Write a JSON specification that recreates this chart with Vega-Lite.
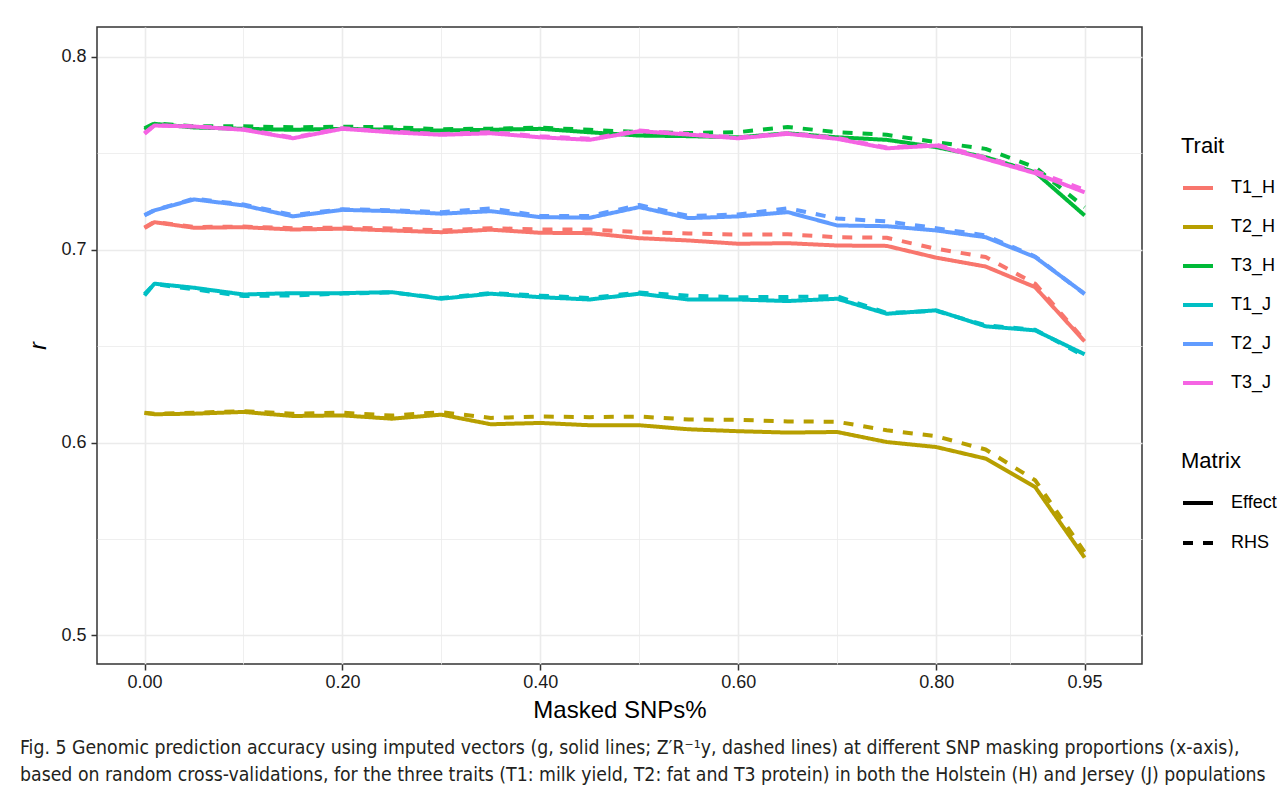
{
  "$schema": "https://vega.github.io/schema/vega-lite/v6.json",
  "width": 1045,
  "height": 637,
  "autosize": {"type": "none"},
  "padding": {"left": 97, "top": 27, "right": 142, "bottom": 131},
  "background": "white",
  "config": {
    "view": {"stroke": "#333333", "strokeWidth": 1.5},
    "font": "Liberation Sans"
  },
  "title": {
    "text": [
      "Fig. 5  Genomic prediction accuracy using imputed vectors (g, solid lines; Z′R⁻¹y, dashed lines) at different SNP masking proportions (x-axis),",
      "based on random cross-validations, for the three traits (T1: milk yield, T2: fat and T3 protein) in both the Holstein (H) and Jersey (J) populations"
    ],
    "orient": "bottom",
    "anchor": "start",
    "frame": "group",
    "dx": -77,
    "offset": 17,
    "font": "Liberation Sans Narrow, DejaVu Sans Condensed, sans-serif",
    "fontSize": 19.3,
    "fontWeight": "normal",
    "color": "#231f20",
    "lineHeight": 27
  },
  "data": {
    "values": [
      {"x":0,"r":0.7112,"t":"T1_H","m":"Effect"},{"x":0.01,"r":0.7143,"t":"T1_H","m":"Effect"},{"x":0.05,"r":0.7114,"t":"T1_H","m":"Effect"},{"x":0.1,"r":0.7117,"t":"T1_H","m":"Effect"},{"x":0.15,"r":0.7105,"t":"T1_H","m":"Effect"},{"x":0.2,"r":0.7109,"t":"T1_H","m":"Effect"},{"x":0.25,"r":0.71,"t":"T1_H","m":"Effect"},{"x":0.3,"r":0.7091,"t":"T1_H","m":"Effect"},{"x":0.35,"r":0.7104,"t":"T1_H","m":"Effect"},{"x":0.4,"r":0.7088,"t":"T1_H","m":"Effect"},{"x":0.45,"r":0.7086,"t":"T1_H","m":"Effect"},{"x":0.5,"r":0.706,"t":"T1_H","m":"Effect"},{"x":0.55,"r":0.7048,"t":"T1_H","m":"Effect"},{"x":0.6,"r":0.7031,"t":"T1_H","m":"Effect"},{"x":0.65,"r":0.7034,"t":"T1_H","m":"Effect"},{"x":0.7,"r":0.7022,"t":"T1_H","m":"Effect"},{"x":0.75,"r":0.702,"t":"T1_H","m":"Effect"},{"x":0.8,"r":0.6959,"t":"T1_H","m":"Effect"},{"x":0.85,"r":0.6913,"t":"T1_H","m":"Effect"},{"x":0.9,"r":0.6806,"t":"T1_H","m":"Effect"},{"x":0.95,"r":0.6525,"t":"T1_H","m":"Effect"},
      {"x":0,"r":0.7115,"t":"T1_H","m":"RHS"},{"x":0.01,"r":0.7145,"t":"T1_H","m":"RHS"},{"x":0.05,"r":0.7118,"t":"T1_H","m":"RHS"},{"x":0.1,"r":0.712,"t":"T1_H","m":"RHS"},{"x":0.15,"r":0.7112,"t":"T1_H","m":"RHS"},{"x":0.2,"r":0.7115,"t":"T1_H","m":"RHS"},{"x":0.25,"r":0.711,"t":"T1_H","m":"RHS"},{"x":0.3,"r":0.71,"t":"T1_H","m":"RHS"},{"x":0.35,"r":0.7112,"t":"T1_H","m":"RHS"},{"x":0.4,"r":0.7105,"t":"T1_H","m":"RHS"},{"x":0.45,"r":0.7105,"t":"T1_H","m":"RHS"},{"x":0.5,"r":0.7091,"t":"T1_H","m":"RHS"},{"x":0.55,"r":0.7084,"t":"T1_H","m":"RHS"},{"x":0.6,"r":0.7079,"t":"T1_H","m":"RHS"},{"x":0.65,"r":0.708,"t":"T1_H","m":"RHS"},{"x":0.7,"r":0.7065,"t":"T1_H","m":"RHS"},{"x":0.75,"r":0.7062,"t":"T1_H","m":"RHS"},{"x":0.8,"r":0.7005,"t":"T1_H","m":"RHS"},{"x":0.85,"r":0.6962,"t":"T1_H","m":"RHS"},{"x":0.9,"r":0.6824,"t":"T1_H","m":"RHS"},{"x":0.95,"r":0.653,"t":"T1_H","m":"RHS"},
      {"x":0,"r":0.6154,"t":"T2_H","m":"Effect"},{"x":0.01,"r":0.6147,"t":"T2_H","m":"Effect"},{"x":0.05,"r":0.615,"t":"T2_H","m":"Effect"},{"x":0.1,"r":0.6159,"t":"T2_H","m":"Effect"},{"x":0.15,"r":0.6138,"t":"T2_H","m":"Effect"},{"x":0.2,"r":0.6141,"t":"T2_H","m":"Effect"},{"x":0.25,"r":0.6124,"t":"T2_H","m":"Effect"},{"x":0.3,"r":0.6145,"t":"T2_H","m":"Effect"},{"x":0.35,"r":0.6095,"t":"T2_H","m":"Effect"},{"x":0.4,"r":0.6102,"t":"T2_H","m":"Effect"},{"x":0.45,"r":0.609,"t":"T2_H","m":"Effect"},{"x":0.5,"r":0.609,"t":"T2_H","m":"Effect"},{"x":0.55,"r":0.6069,"t":"T2_H","m":"Effect"},{"x":0.6,"r":0.6059,"t":"T2_H","m":"Effect"},{"x":0.65,"r":0.6052,"t":"T2_H","m":"Effect"},{"x":0.7,"r":0.6055,"t":"T2_H","m":"Effect"},{"x":0.75,"r":0.6003,"t":"T2_H","m":"Effect"},{"x":0.8,"r":0.5977,"t":"T2_H","m":"Effect"},{"x":0.85,"r":0.5917,"t":"T2_H","m":"Effect"},{"x":0.9,"r":0.577,"t":"T2_H","m":"Effect"},{"x":0.95,"r":0.5404,"t":"T2_H","m":"Effect"},
      {"x":0,"r":0.6155,"t":"T2_H","m":"RHS"},{"x":0.01,"r":0.615,"t":"T2_H","m":"RHS"},{"x":0.05,"r":0.6155,"t":"T2_H","m":"RHS"},{"x":0.1,"r":0.6163,"t":"T2_H","m":"RHS"},{"x":0.15,"r":0.615,"t":"T2_H","m":"RHS"},{"x":0.2,"r":0.6155,"t":"T2_H","m":"RHS"},{"x":0.25,"r":0.614,"t":"T2_H","m":"RHS"},{"x":0.3,"r":0.6158,"t":"T2_H","m":"RHS"},{"x":0.35,"r":0.6128,"t":"T2_H","m":"RHS"},{"x":0.4,"r":0.6135,"t":"T2_H","m":"RHS"},{"x":0.45,"r":0.6132,"t":"T2_H","m":"RHS"},{"x":0.5,"r":0.6135,"t":"T2_H","m":"RHS"},{"x":0.55,"r":0.612,"t":"T2_H","m":"RHS"},{"x":0.6,"r":0.6118,"t":"T2_H","m":"RHS"},{"x":0.65,"r":0.611,"t":"T2_H","m":"RHS"},{"x":0.7,"r":0.6108,"t":"T2_H","m":"RHS"},{"x":0.75,"r":0.6064,"t":"T2_H","m":"RHS"},{"x":0.8,"r":0.6033,"t":"T2_H","m":"RHS"},{"x":0.85,"r":0.5964,"t":"T2_H","m":"RHS"},{"x":0.9,"r":0.5805,"t":"T2_H","m":"RHS"},{"x":0.95,"r":0.5433,"t":"T2_H","m":"RHS"},
      {"x":0,"r":0.7622,"t":"T3_H","m":"Effect"},{"x":0.01,"r":0.7653,"t":"T3_H","m":"Effect"},{"x":0.05,"r":0.7634,"t":"T3_H","m":"Effect"},{"x":0.1,"r":0.7627,"t":"T3_H","m":"Effect"},{"x":0.15,"r":0.7622,"t":"T3_H","m":"Effect"},{"x":0.2,"r":0.7627,"t":"T3_H","m":"Effect"},{"x":0.25,"r":0.7622,"t":"T3_H","m":"Effect"},{"x":0.3,"r":0.7618,"t":"T3_H","m":"Effect"},{"x":0.35,"r":0.7622,"t":"T3_H","m":"Effect"},{"x":0.4,"r":0.7627,"t":"T3_H","m":"Effect"},{"x":0.45,"r":0.7609,"t":"T3_H","m":"Effect"},{"x":0.5,"r":0.7592,"t":"T3_H","m":"Effect"},{"x":0.55,"r":0.7589,"t":"T3_H","m":"Effect"},{"x":0.6,"r":0.7583,"t":"T3_H","m":"Effect"},{"x":0.65,"r":0.7604,"t":"T3_H","m":"Effect"},{"x":0.7,"r":0.7583,"t":"T3_H","m":"Effect"},{"x":0.75,"r":0.757,"t":"T3_H","m":"Effect"},{"x":0.8,"r":0.7532,"t":"T3_H","m":"Effect"},{"x":0.85,"r":0.748,"t":"T3_H","m":"Effect"},{"x":0.9,"r":0.7402,"t":"T3_H","m":"Effect"},{"x":0.95,"r":0.7178,"t":"T3_H","m":"Effect"},
      {"x":0,"r":0.763,"t":"T3_H","m":"RHS"},{"x":0.01,"r":0.7655,"t":"T3_H","m":"RHS"},{"x":0.05,"r":0.764,"t":"T3_H","m":"RHS"},{"x":0.1,"r":0.764,"t":"T3_H","m":"RHS"},{"x":0.15,"r":0.7635,"t":"T3_H","m":"RHS"},{"x":0.2,"r":0.7638,"t":"T3_H","m":"RHS"},{"x":0.25,"r":0.7635,"t":"T3_H","m":"RHS"},{"x":0.3,"r":0.7625,"t":"T3_H","m":"RHS"},{"x":0.35,"r":0.7628,"t":"T3_H","m":"RHS"},{"x":0.4,"r":0.7633,"t":"T3_H","m":"RHS"},{"x":0.45,"r":0.7622,"t":"T3_H","m":"RHS"},{"x":0.5,"r":0.761,"t":"T3_H","m":"RHS"},{"x":0.55,"r":0.7605,"t":"T3_H","m":"RHS"},{"x":0.6,"r":0.761,"t":"T3_H","m":"RHS"},{"x":0.65,"r":0.7636,"t":"T3_H","m":"RHS"},{"x":0.7,"r":0.761,"t":"T3_H","m":"RHS"},{"x":0.75,"r":0.7596,"t":"T3_H","m":"RHS"},{"x":0.8,"r":0.7558,"t":"T3_H","m":"RHS"},{"x":0.85,"r":0.7523,"t":"T3_H","m":"RHS"},{"x":0.9,"r":0.7428,"t":"T3_H","m":"RHS"},{"x":0.95,"r":0.722,"t":"T3_H","m":"RHS"},
      {"x":0,"r":0.6763,"t":"T1_J","m":"Effect"},{"x":0.01,"r":0.6824,"t":"T1_J","m":"Effect"},{"x":0.05,"r":0.6803,"t":"T1_J","m":"Effect"},{"x":0.1,"r":0.6768,"t":"T1_J","m":"Effect"},{"x":0.15,"r":0.6775,"t":"T1_J","m":"Effect"},{"x":0.2,"r":0.6775,"t":"T1_J","m":"Effect"},{"x":0.25,"r":0.678,"t":"T1_J","m":"Effect"},{"x":0.3,"r":0.6746,"t":"T1_J","m":"Effect"},{"x":0.35,"r":0.6772,"t":"T1_J","m":"Effect"},{"x":0.4,"r":0.6754,"t":"T1_J","m":"Effect"},{"x":0.45,"r":0.6742,"t":"T1_J","m":"Effect"},{"x":0.5,"r":0.6772,"t":"T1_J","m":"Effect"},{"x":0.55,"r":0.6742,"t":"T1_J","m":"Effect"},{"x":0.6,"r":0.6742,"t":"T1_J","m":"Effect"},{"x":0.65,"r":0.6734,"t":"T1_J","m":"Effect"},{"x":0.7,"r":0.6746,"t":"T1_J","m":"Effect"},{"x":0.75,"r":0.6668,"t":"T1_J","m":"Effect"},{"x":0.8,"r":0.6686,"t":"T1_J","m":"Effect"},{"x":0.85,"r":0.6603,"t":"T1_J","m":"Effect"},{"x":0.9,"r":0.6582,"t":"T1_J","m":"Effect"},{"x":0.95,"r":0.6458,"t":"T1_J","m":"Effect"},
      {"x":0,"r":0.677,"t":"T1_J","m":"RHS"},{"x":0.01,"r":0.6822,"t":"T1_J","m":"RHS"},{"x":0.05,"r":0.6795,"t":"T1_J","m":"RHS"},{"x":0.1,"r":0.676,"t":"T1_J","m":"RHS"},{"x":0.15,"r":0.6763,"t":"T1_J","m":"RHS"},{"x":0.2,"r":0.6773,"t":"T1_J","m":"RHS"},{"x":0.25,"r":0.6778,"t":"T1_J","m":"RHS"},{"x":0.3,"r":0.675,"t":"T1_J","m":"RHS"},{"x":0.35,"r":0.6775,"t":"T1_J","m":"RHS"},{"x":0.4,"r":0.6762,"t":"T1_J","m":"RHS"},{"x":0.45,"r":0.675,"t":"T1_J","m":"RHS"},{"x":0.5,"r":0.6778,"t":"T1_J","m":"RHS"},{"x":0.55,"r":0.6762,"t":"T1_J","m":"RHS"},{"x":0.6,"r":0.6754,"t":"T1_J","m":"RHS"},{"x":0.65,"r":0.6755,"t":"T1_J","m":"RHS"},{"x":0.7,"r":0.6759,"t":"T1_J","m":"RHS"},{"x":0.75,"r":0.6672,"t":"T1_J","m":"RHS"},{"x":0.8,"r":0.6683,"t":"T1_J","m":"RHS"},{"x":0.85,"r":0.6608,"t":"T1_J","m":"RHS"},{"x":0.9,"r":0.6585,"t":"T1_J","m":"RHS"},{"x":0.95,"r":0.6448,"t":"T1_J","m":"RHS"},
      {"x":0,"r":0.7178,"t":"T2_J","m":"Effect"},{"x":0.01,"r":0.7204,"t":"T2_J","m":"Effect"},{"x":0.05,"r":0.7261,"t":"T2_J","m":"Effect"},{"x":0.1,"r":0.723,"t":"T2_J","m":"Effect"},{"x":0.15,"r":0.7173,"t":"T2_J","m":"Effect"},{"x":0.2,"r":0.7207,"t":"T2_J","m":"Effect"},{"x":0.25,"r":0.72,"t":"T2_J","m":"Effect"},{"x":0.3,"r":0.7187,"t":"T2_J","m":"Effect"},{"x":0.35,"r":0.72,"t":"T2_J","m":"Effect"},{"x":0.4,"r":0.7169,"t":"T2_J","m":"Effect"},{"x":0.45,"r":0.7166,"t":"T2_J","m":"Effect"},{"x":0.5,"r":0.7221,"t":"T2_J","m":"Effect"},{"x":0.55,"r":0.7164,"t":"T2_J","m":"Effect"},{"x":0.6,"r":0.7173,"t":"T2_J","m":"Effect"},{"x":0.65,"r":0.7195,"t":"T2_J","m":"Effect"},{"x":0.7,"r":0.7126,"t":"T2_J","m":"Effect"},{"x":0.75,"r":0.7122,"t":"T2_J","m":"Effect"},{"x":0.8,"r":0.71,"t":"T2_J","m":"Effect"},{"x":0.85,"r":0.7065,"t":"T2_J","m":"Effect"},{"x":0.9,"r":0.6962,"t":"T2_J","m":"Effect"},{"x":0.95,"r":0.6772,"t":"T2_J","m":"Effect"},
      {"x":0,"r":0.718,"t":"T2_J","m":"RHS"},{"x":0.01,"r":0.7205,"t":"T2_J","m":"RHS"},{"x":0.05,"r":0.7265,"t":"T2_J","m":"RHS"},{"x":0.1,"r":0.7235,"t":"T2_J","m":"RHS"},{"x":0.15,"r":0.718,"t":"T2_J","m":"RHS"},{"x":0.2,"r":0.721,"t":"T2_J","m":"RHS"},{"x":0.25,"r":0.7205,"t":"T2_J","m":"RHS"},{"x":0.3,"r":0.7195,"t":"T2_J","m":"RHS"},{"x":0.35,"r":0.7215,"t":"T2_J","m":"RHS"},{"x":0.4,"r":0.7175,"t":"T2_J","m":"RHS"},{"x":0.45,"r":0.7175,"t":"T2_J","m":"RHS"},{"x":0.5,"r":0.7232,"t":"T2_J","m":"RHS"},{"x":0.55,"r":0.7175,"t":"T2_J","m":"RHS"},{"x":0.6,"r":0.7183,"t":"T2_J","m":"RHS"},{"x":0.65,"r":0.7215,"t":"T2_J","m":"RHS"},{"x":0.7,"r":0.7162,"t":"T2_J","m":"RHS"},{"x":0.75,"r":0.7147,"t":"T2_J","m":"RHS"},{"x":0.8,"r":0.7112,"t":"T2_J","m":"RHS"},{"x":0.85,"r":0.7074,"t":"T2_J","m":"RHS"},{"x":0.9,"r":0.6965,"t":"T2_J","m":"RHS"},{"x":0.95,"r":0.677,"t":"T2_J","m":"RHS"},
      {"x":0,"r":0.7601,"t":"T3_J","m":"Effect"},{"x":0.01,"r":0.7644,"t":"T3_J","m":"Effect"},{"x":0.05,"r":0.7639,"t":"T3_J","m":"Effect"},{"x":0.1,"r":0.7622,"t":"T3_J","m":"Effect"},{"x":0.15,"r":0.7578,"t":"T3_J","m":"Effect"},{"x":0.2,"r":0.7627,"t":"T3_J","m":"Effect"},{"x":0.25,"r":0.7609,"t":"T3_J","m":"Effect"},{"x":0.3,"r":0.7596,"t":"T3_J","m":"Effect"},{"x":0.35,"r":0.7604,"t":"T3_J","m":"Effect"},{"x":0.4,"r":0.7583,"t":"T3_J","m":"Effect"},{"x":0.45,"r":0.757,"t":"T3_J","m":"Effect"},{"x":0.5,"r":0.7615,"t":"T3_J","m":"Effect"},{"x":0.55,"r":0.7597,"t":"T3_J","m":"Effect"},{"x":0.6,"r":0.7578,"t":"T3_J","m":"Effect"},{"x":0.65,"r":0.7601,"t":"T3_J","m":"Effect"},{"x":0.7,"r":0.7575,"t":"T3_J","m":"Effect"},{"x":0.75,"r":0.7526,"t":"T3_J","m":"Effect"},{"x":0.8,"r":0.754,"t":"T3_J","m":"Effect"},{"x":0.85,"r":0.7471,"t":"T3_J","m":"Effect"},{"x":0.9,"r":0.7397,"t":"T3_J","m":"Effect"},{"x":0.95,"r":0.7298,"t":"T3_J","m":"Effect"},
      {"x":0,"r":0.7605,"t":"T3_J","m":"RHS"},{"x":0.01,"r":0.7645,"t":"T3_J","m":"RHS"},{"x":0.05,"r":0.764,"t":"T3_J","m":"RHS"},{"x":0.1,"r":0.7625,"t":"T3_J","m":"RHS"},{"x":0.15,"r":0.7582,"t":"T3_J","m":"RHS"},{"x":0.2,"r":0.763,"t":"T3_J","m":"RHS"},{"x":0.25,"r":0.7612,"t":"T3_J","m":"RHS"},{"x":0.3,"r":0.76,"t":"T3_J","m":"RHS"},{"x":0.35,"r":0.761,"t":"T3_J","m":"RHS"},{"x":0.4,"r":0.7588,"t":"T3_J","m":"RHS"},{"x":0.45,"r":0.7575,"t":"T3_J","m":"RHS"},{"x":0.5,"r":0.7618,"t":"T3_J","m":"RHS"},{"x":0.55,"r":0.76,"t":"T3_J","m":"RHS"},{"x":0.6,"r":0.7582,"t":"T3_J","m":"RHS"},{"x":0.65,"r":0.7605,"t":"T3_J","m":"RHS"},{"x":0.7,"r":0.758,"t":"T3_J","m":"RHS"},{"x":0.75,"r":0.753,"t":"T3_J","m":"RHS"},{"x":0.8,"r":0.7545,"t":"T3_J","m":"RHS"},{"x":0.85,"r":0.7478,"t":"T3_J","m":"RHS"},{"x":0.9,"r":0.7408,"t":"T3_J","m":"RHS"},{"x":0.95,"r":0.731,"t":"T3_J","m":"RHS"}
    ]
  },
  "mark": {"type": "line", "strokeWidth": 4, "strokeCap": "butt", "strokeJoin": "round"},
  "encoding": {
    "x": {
      "field": "x", "type": "quantitative",
      "scale": {"domain": [-0.048, 1.008], "nice": false, "zero": false},
      "axis": {
        "values": [0, 0.1, 0.2, 0.3, 0.4, 0.5, 0.6, 0.7, 0.8, 0.875, 0.95],
        "labelExpr": "indexof([0.1,0.3,0.5,0.7,0.875], datum.value) >= 0 ? '' : format(datum.value, '.2f')",
        "title": "Masked SNPs%",
        "titleFontSize": 24, "titleFontWeight": "normal", "titleColor": "#000000", "titlePadding": 7,
        "labelFontSize": 18, "labelColor": "#1a1a1a", "labelPadding": 3, "labelFlush": false,
        "domain": false,
        "tickColor": "#333333", "tickWidth": 1.5, "tickSize": 6,
        "tickOpacity": {"condition": {"test": "indexof([0.1,0.3,0.5,0.7,0.875], datum.value) >= 0", "value": 0}, "value": 1},
        "gridColor": "#ebebeb",
        "gridWidth": {"condition": {"test": "indexof([0.1,0.3,0.5,0.7,0.875], datum.value) >= 0", "value": 0.8}, "value": 1.6}
      }
    },
    "y": {
      "field": "r", "type": "quantitative",
      "scale": {"domain": [0.4852, 0.8155], "nice": false, "zero": false},
      "axis": {
        "values": [0.5, 0.55, 0.6, 0.65, 0.7, 0.75, 0.8],
        "labelExpr": "indexof([0.55,0.65,0.75], datum.value) >= 0 ? '' : format(datum.value, '.1f')",
        "title": "r",
        "titleFontSize": 23, "titleFontWeight": "normal", "titleFontStyle": "italic", "titleColor": "#000000", "titlePadding": 10,
        "labelFontSize": 18, "labelColor": "#1a1a1a", "labelPadding": 5,
        "domain": false,
        "tickColor": "#333333", "tickWidth": 1.5, "tickSize": 6,
        "tickOpacity": {"condition": {"test": "indexof([0.55,0.65,0.75], datum.value) >= 0", "value": 0}, "value": 1},
        "gridColor": "#ebebeb",
        "gridWidth": {"condition": {"test": "indexof([0.55,0.65,0.75], datum.value) >= 0", "value": 0.8}, "value": 1.6}
      }
    },
    "color": {
      "field": "t", "type": "nominal",
      "scale": {"domain": ["T1_H", "T2_H", "T3_H", "T1_J", "T2_J", "T3_J"], "range": ["#F8766D", "#B79F00", "#00BA38", "#00BFC4", "#619CFF", "#F564E3"]},
      "legend": {
        "title": "Trait", "orient": "none", "legendX": 1084, "legendY": 109,
        "padding": 0,
        "symbolType": "stroke", "symbolSize": 900, "symbolStrokeWidth": 4,
        "labelFontSize": 18, "labelColor": "#000000", "labelOffset": 16,
        "titleFontSize": 22, "titleFontWeight": "normal", "titleColor": "#000000", "titlePadding": 13,
        "rowPadding": 13
      }
    },
    "strokeDash": {
      "field": "m", "type": "nominal",
      "scale": {"domain": ["Effect", "RHS"], "range": [[1, 0], [10, 10]]},
      "legend": {
        "title": "Matrix", "orient": "none", "legendX": 1084, "legendY": 424,
        "padding": 0,
        "symbolType": "stroke", "symbolSize": 900, "symbolStrokeWidth": 4, "symbolStrokeColor": "#000000",
        "labelFontSize": 18, "labelColor": "#000000", "labelOffset": 16,
        "titleFontSize": 22, "titleFontWeight": "normal", "titleColor": "#000000", "titlePadding": 13,
        "rowPadding": 14
      }
    }
  }
}
